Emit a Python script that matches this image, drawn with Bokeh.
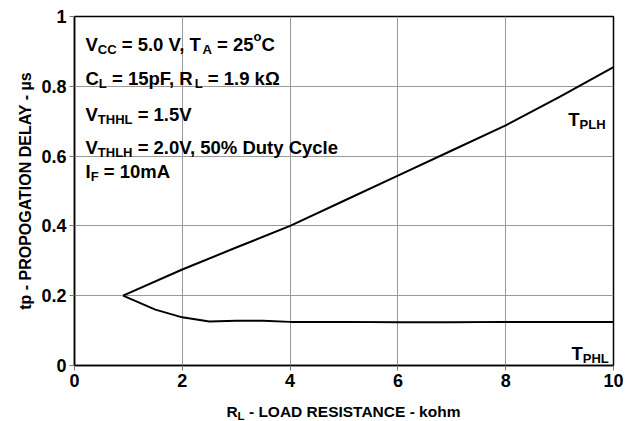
from bokeh.plotting import figure
from bokeh.layouts import column
from bokeh.models import Label, FixedTicker, CustomJSTickFormatter, Range1d
from bokeh.core.properties import value
from bokeh.embed import file_html
from bokeh.resources import INLINE

# ---- data ----
plh_x = [0.9, 2.0, 3.0, 4.0, 5.0, 6.0, 7.0, 8.0, 9.0, 10.0]
plh_y = [0.20, 0.275, 0.338, 0.40, 0.472, 0.544, 0.616, 0.688, 0.77, 0.855]
phl_x = [0.9, 1.5, 2.0, 2.5, 3.0, 3.5, 4.0, 5.0, 6.0, 7.0, 8.0, 9.0, 10.0]
phl_y = [0.20, 0.16, 0.138, 0.126, 0.128, 0.128, 0.125, 0.125, 0.124, 0.124, 0.125, 0.125, 0.125]
x_ticks = [0, 2, 4, 6, 8, 10]
y_ticks = [0, 0.2, 0.4, 0.6, 0.8, 1.0]

FONT = "'Liberation Sans', Arial, sans-serif"
MAIN = 18.5
SUB = 13

# Arial / Liberation Sans Bold advance widths (per 1000 em)
W = {' ': 278, '%': 889, ',': 278, '.': 278, '=': 584, '-': 333, 'A': 722, 'C': 722, 'D': 722,
     'E': 667, 'F': 611, 'G': 778, 'H': 722, 'I': 278, 'L': 611, 'N': 722, 'O': 778, 'P': 667,
     'R': 722, 'S': 667, 'T': 611, 'V': 667, 'Y': 667, 'a': 556, 'c': 556, 'e': 556, 'f': 333,
     'h': 611, 'k': 556, 'l': 278, 'm': 889, 'o': 611, 'p': 611, 't': 333, 'u': 611, 'y': 556,
     'Ω': 768, '°': 400}


def text_w(s, size):
    return sum(W.get(ch, 556) for ch in s) * size / 1000.0


# frame geometry (pixels)
FL, FR, FT, FB = 74, 613, 16, 365
PW, PH = 634, 395

p = figure(width=PW, height=PH, x_range=(0, 10), y_range=(0, 1),
           output_backend="svg", toolbar_location=None,
           min_border_left=FL, min_border_right=PW - FR, min_border_top=FT, min_border_bottom=PH - FB)

p.outline_line_color = "black"
p.outline_line_width = 1.5
p.background_fill_color = "white"
p.border_fill_color = "white"

for ax in (p.xaxis[0], p.yaxis[0]):
    ax.axis_line_color = "black"
    ax.axis_line_width = 1.5
    ax.major_tick_out = 5
    ax.major_tick_in = 0
    ax.minor_tick_out = 0
    ax.minor_tick_in = 0
    ax.major_tick_line_color = "#777777"
    ax.major_label_text_font = FONT
    ax.major_label_text_font_style = "bold"
    ax.major_label_text_font_size = "18px"
    ax.major_label_text_color = "black"
    ax.major_label_standoff = 3

p.xaxis.ticker = FixedTicker(ticks=x_ticks)
p.yaxis.ticker = FixedTicker(ticks=y_ticks)
p.yaxis.formatter = CustomJSTickFormatter(code="return (tick == 0 || tick == 1) ? tick.toFixed(0) : tick.toFixed(1);")

p.yaxis.axis_label = "tp - PROPOGATION DELAY - µs"
p.yaxis.axis_label_text_font = FONT
p.yaxis.axis_label_text_font_style = "bold"
p.yaxis.axis_label_text_font_size = "16px"
p.yaxis.axis_label_text_color = "black"
p.yaxis.axis_label_standoff = 4

p.xgrid.ticker = FixedTicker(ticks=x_ticks)
p.ygrid.ticker = FixedTicker(ticks=y_ticks)
p.grid.grid_line_color = "#999999"
p.grid.grid_line_width = 1

p.line(plh_x, plh_y, line_color="black", line_width=2)
p.line(phl_x, phl_y, line_color="black", line_width=2)


def seg_label(x, y, segs, offset0=0.0, main=MAIN, sub=SUB):
    off = offset0
    for txt, kind in segs:
        size = main if kind == "m" else sub
        yoff = 0 if kind == "m" else (-5 if kind == "s" else 8)
        lead = len(txt) - len(txt.lstrip(" "))
        off += lead * text_w(" ", size)
        body = txt.strip(" ")
        p.add_layout(Label(x=x, y=y, x_offset=off, y_offset=yoff, text=body,
                           text_font=FONT, text_font_style="bold",
                           text_font_size=f"{size}px", text_color="black",
                           text_align="left", text_baseline="alphabetic"))
        off += text_w(txt.lstrip(" "), size)
    return off


# annotation block (x in data units, baseline y in data units)
lines = [
    (0.920, [("V", "m"), ("CC", "s"), (" = 5.0 V, T", "m"), ("A", "s"), (" = 25", "m"), ("o", "p"), ("C", "m")]),
    (0.822, [("C", "m"), ("L", "s"), (" = 15pF, R", "m"), ("L", "s"), (" = 1.9 kΩ", "m")]),
    (0.719, [("V", "m"), ("THHL", "s"), (" = 1.5V", "m")]),
    (0.625, [("V", "m"), ("THLH", "s"), (" = 2.0V, 50% Duty Cycle", "m")]),
    (0.556, [("I", "m"), ("F", "s"), (" = 10mA", "m")]),
]
for yb, segs in lines:
    seg_label(0.204, yb, segs)

seg_label(9.16, 0.705, [("T", "m"), ("PLH", "s")])
seg_label(9.22, 0.034, [("T", "m"), ("PHL", "s")])

# x axis title strip (its frame is aligned with the main frame: x in page pixels)
TH = 421 - PH
TMAIN, TSUB = 15.5, 11.5
xt_main = "R"
xt_sub = "L"
xt_rest = "- LOAD RESISTANCE - kohm"
sp = text_w(" ", TMAIN)
total = text_w(xt_main, TMAIN) + text_w(xt_sub, TSUB) + sp + text_w(xt_rest, TMAIN)
cx = (FL + FR) / 2.0
x0 = cx - total / 2.0
x1 = x0 + text_w(xt_main, TMAIN)
x2 = x1 + text_w(xt_sub, TSUB) + sp

t = figure(width=PW, height=TH, x_range=Range1d(FL, FR), y_range=Range1d(0, TH),
           output_backend="svg", toolbar_location=None,
           x_axis_location=None, y_axis_location=None,
           min_border_left=FL, min_border_right=PW - FR, min_border_top=0, min_border_bottom=0)
t.outline_line_color = None
t.grid.visible = False
t.background_fill_color = "white"
t.border_fill_color = "white"
t.text(x=[x0, x2], y=[10, 10], text=[xt_main, xt_rest],
       text_font=value(FONT), text_font_style="bold", text_font_size=value(f"{TMAIN}px"),
       text_color="black", text_align="left", text_baseline="alphabetic")
t.text(x=[x1], y=[5.5], text=[xt_sub],
       text_font=value(FONT), text_font_style="bold", text_font_size=value(f"{TSUB}px"),
       text_color="black", text_align="left", text_baseline="alphabetic")

layout = column(p, t, spacing=0)
open("out.html", "w").write(file_html(layout, INLINE))
